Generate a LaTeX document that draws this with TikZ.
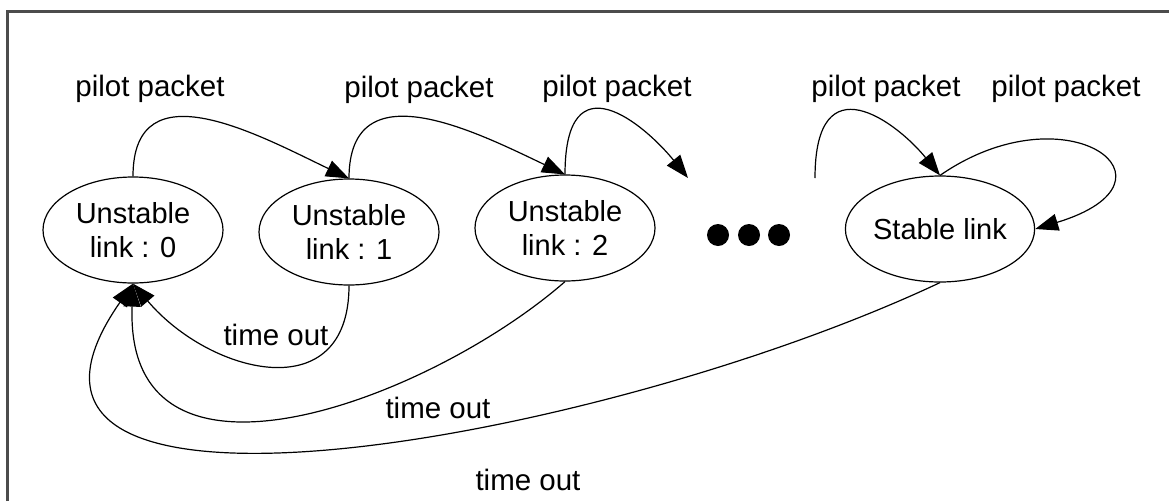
\documentclass[tikz,border=0pt]{standalone}
\usepackage{fontspec}
\setmainfont{Liberation Sans}
\usetikzlibrary{shapes.geometric,arrows.meta}

\begin{document}
\begin{tikzpicture}[x=1pt,y=-1pt,
  state/.style={draw, ellipse, line width=1.2pt, minimum width=180pt, minimum height=106pt,
    inner sep=0pt, align=center, font=\fontsize{29}{34}\selectfont},
  lbl/.style={inner sep=0pt, font=\fontsize{29.5}{34}\selectfont},
  link/.style={line width=1.2pt, -{Triangle[length=23pt,width=17pt]}}]
\useasboundingbox (0,0) rectangle (1169,501);

% Frame (only top and left edges are in view)
\draw[line width=2.5pt, black!70] (7.5,501) -- (7.5,11.5) -- (1169,11.5);

% States
\node[state] (u0) at (133,230) {Unstable\\link : 0};
\node[state] (u1) at (349,232) {Unstable\\link : 1};
\node[state] (u2) at (565,228) {Unstable\\link : 2};
\node[state] (st) at (940,229) {Stable link};

% Dots between the states
\fill (718,235) circle (11);
\fill (749,235) circle (11);
\fill (779,235) circle (11);
\coordinate (dotin) at (688,178);
\coordinate (dotout) at (815,178);

% pilot packet transitions
\draw[link] (u0.north) .. controls +(0,-111) and +(-88,-42) .. (u1.north);
\draw[link] (u1.north) .. controls +(0,-111) and +(-88,-42) .. (u2.north);
\draw[link] (u2.north) .. controls +(0,-118) and +(-43,-53) .. (dotin);
\draw[link] (dotout) .. controls +(0,-118) and +(-43,-53) .. (st.north);
\draw[link] (st.north) .. controls +(127,-88) and +(158,-48) .. (st.east);

% time out transitions
\draw[link] (u1.south) .. controls +(0,124) and +(77,91) .. (u0.south);
\draw[link] (u2.south) .. controls +(-135,118) and +(-9,232) .. (u0.south);
\draw[link] (st.south) .. controls +(-340,160) and +(-193,277) .. (u0.south);

% Labels
\node[lbl] (pp1) at (150,89) {pilot packet};
\node[lbl] (pp2) at (419,90) {pilot packet};
\node[lbl] (pp3) at (617,89) {pilot packet};
\node[lbl] (pp4) at (886,89) {pilot packet};
\node[lbl] (pp5) at (1066,89) {pilot packet};
\node[lbl] (to1) at (276,335) {time out};
\node[lbl] (to2) at (438,408) {time out};
\node[lbl] (to3) at (528,480) {time out};
\end{tikzpicture}
\end{document}
